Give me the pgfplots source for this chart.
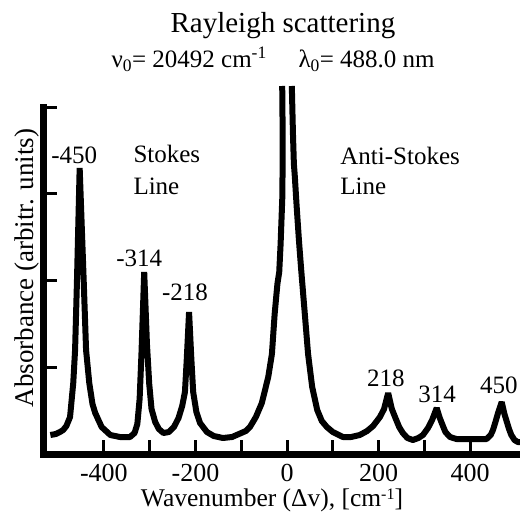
\documentclass[border=0pt]{standalone}
\usepackage{fontspec}
\setmainfont{Liberation Serif}
\usepackage{pgfplots}
\pgfplotsset{compat=1.18}
\begin{document}
\fontsize{25}{30}\selectfont
\begin{tikzpicture}
\useasboundingbox (-43.5pt,-58pt) rectangle (476.5pt,454pt);
\begin{axis}[
  at={(0pt,0pt)}, anchor=south west,
  scale only axis, width=476.5pt, height=346pt,
  xmin=-532, xmax=509, ymin=0, ymax=346,
  axis x line=bottom, axis y line=left,
  axis line style={-, black, line width=7pt, line cap=rect},
  tick align=inside,
  xtick={-400,-200,0,200,400},
  xticklabels={-400,-200,0,200,400},
  minor xtick={-300,-100,100,300},
  ytick={87,173,260,346}, yticklabels={},
  major tick length=14pt, minor tick length=14pt,
  tick style={black, line width=3pt},
  xticklabel style={anchor=north, inner sep=0pt, yshift=-10.5pt,
    font=\fontsize{26}{28}\selectfont},
  clip=false,
]
% Stokes side and Rayleigh line (left half)
\addplot[black, line width=6pt, line join=bevel] coordinates {
  (-517,19) (-505,20) (-496,22) (-489,24) (-482,28) (-474,37) (-467,71)
  (-463,104) (-459,171) (-453,286) (-444,171) (-439,104) (-432,71)
  (-425,50) (-419,41) (-405,27) (-386,19) (-365,17) (-343,17) (-333,21)
  (-327,30) (-322,55) (-318,100) (-312,182) (-306,110) (-301,70)
  (-296,45) (-288,32) (-280,25) (-270,21) (-258,22) (-247,27) (-237,36)
  (-229,48) (-223,62) (-219,95) (-214,142) (-209,95) (-205,62) (-198,42)
  (-190,31) (-175,22) (-160,18) (-140,16) (-120,17) (-105,20) (-90,23)
  (-81,27) (-68,37) (-55,51) (-41,77) (-33,100) (-27,140) (-21,170)
  (-17,182) (-14,210) (-10,260) (-9.5,320) (-10.5,368)
};
% Anti-Stokes side (right half)
\addplot[black, line width=6pt, line join=bevel] coordinates {
  (10.5,368) (13,320) (15,290) (17,278) (21,248) (26,214) (31,184)
  (38,145) (46,100) (55,67) (66,44) (76,33) (87,27) (100,22) (122,17)
  (140,17) (159,19) (175,23) (188,28) (203,37) (212,45) (221,61)
  (229,45) (236,37) (245,27) (253,21) (263,16) (275,14) (287,16)
  (297,19) (308,26) (317,34) (327,46) (333,37) (338,31) (346,22)
  (356,17) (370,15) (436,15) (445,19) (450,24) (456,33) (461,41)
  (469,52) (475,40) (479,34) (485,25) (490,19) (497,14) (504,12) (509,12)
};
\node[anchor=base] at (axis cs:-465,290) {-450};
\node[anchor=base] at (axis cs:-323,187) {-314};
\node[anchor=base] at (axis cs:-223,153) {-218};
\node[anchor=base] at (axis cs:216,68) {218};
\node[anchor=base] at (axis cs:328,52) {314};
\node[anchor=base] at (axis cs:463,61) {450};
\node[anchor=base west] at (axis cs:-354,291) {Stokes};
\node[anchor=base west] at (axis cs:-354,259) {Line};
\node[anchor=base west] at (axis cs:98,289) {Anti-Stokes};
\node[anchor=base west] at (axis cs:98,259) {Line};
\node[anchor=base, font=\fontsize{29}{32}\selectfont] at (axis cs:-9,421) {Rayleigh scattering};
\node[anchor=base west] at (axis cs:-402,386) {ν\textsubscript{0}= 20492 cm\textsuperscript{-1}};
\node[anchor=base west] at (axis cs:6.5,386) {λ\textsubscript{0}= 488.0 nm};
\end{axis}
\node[anchor=base, inner sep=0pt, font=\fontsize{25.5}{30}\selectfont] at (228.5pt,-52pt)
  {Wavenumber (Δv), [cm\raisebox{0.25em}{\fontsize{16}{16}\selectfont -1}]};
\node[rotate=90, anchor=base, inner sep=0pt, font=\fontsize{27}{30}\selectfont] at (-10.5pt,186pt) {Absorbance (arbitr. units)};
\end{tikzpicture}
\end{document}
